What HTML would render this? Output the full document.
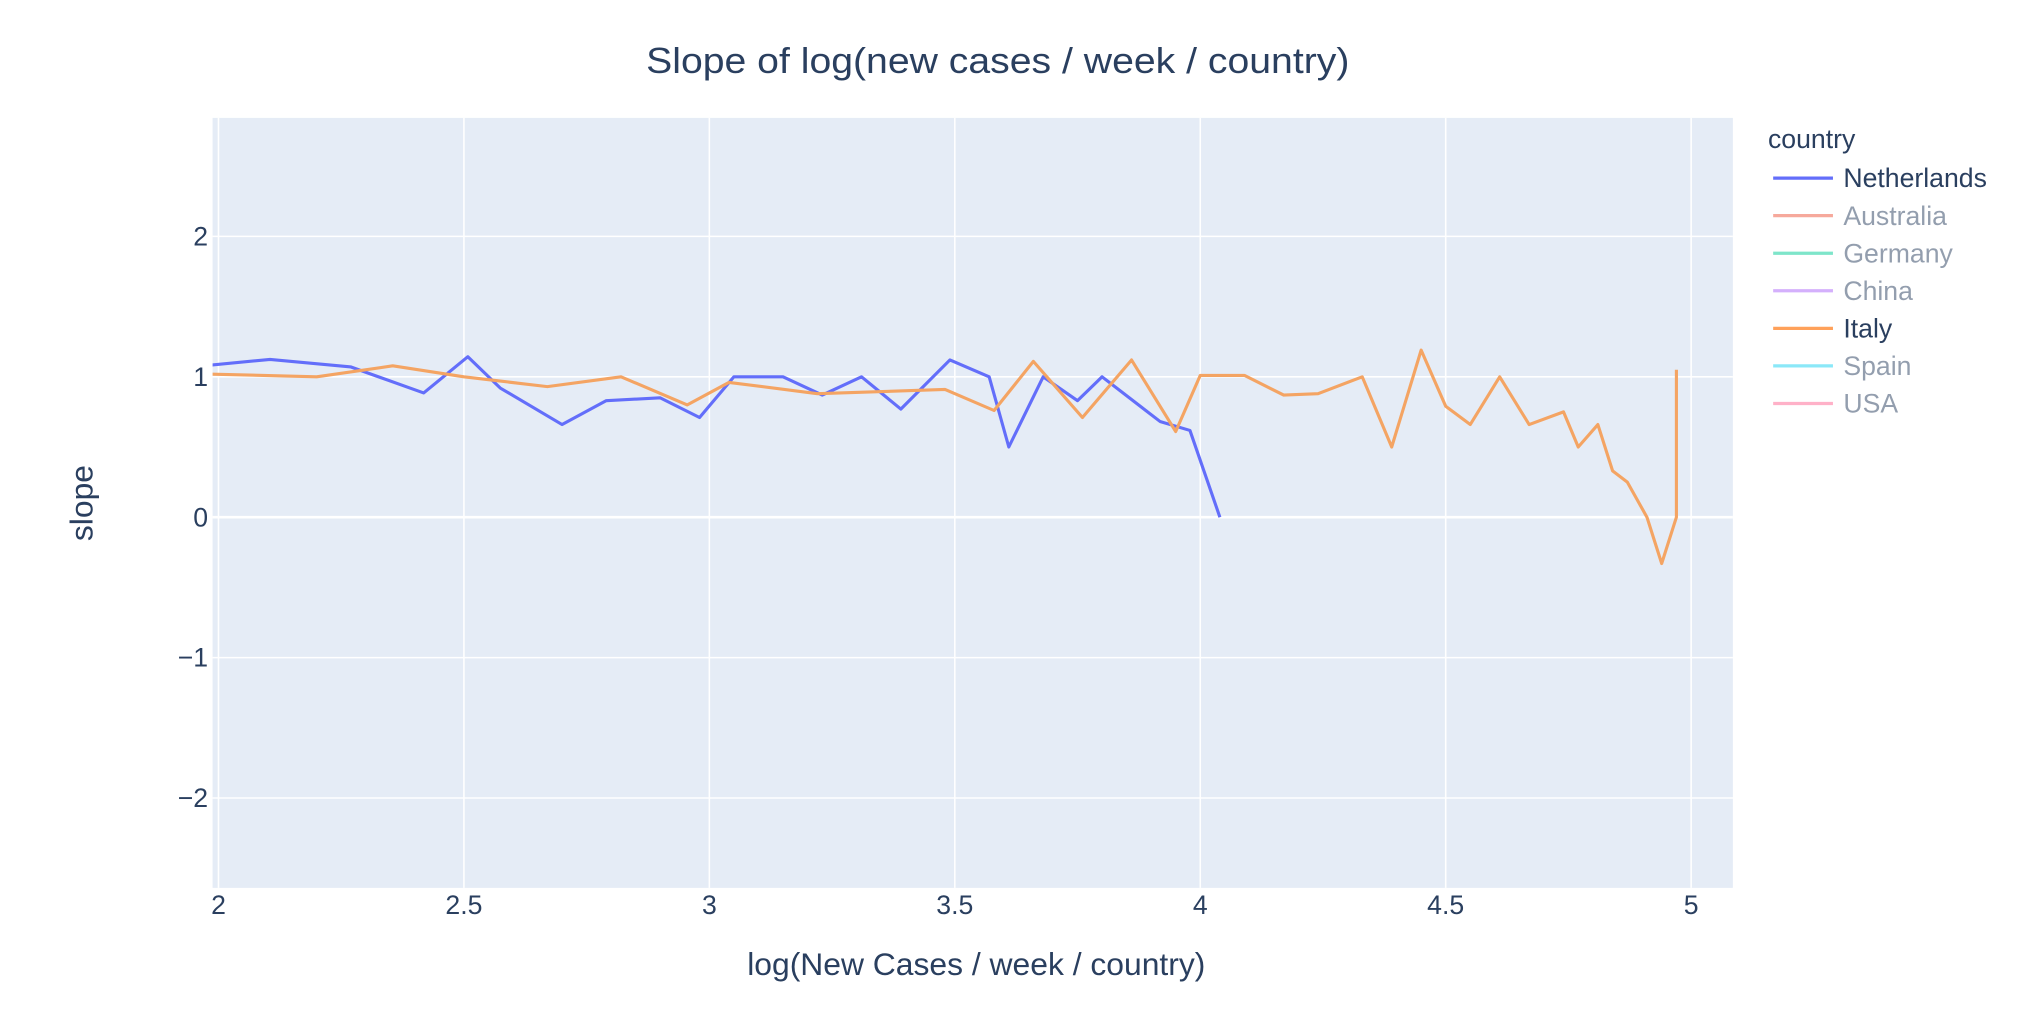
<!DOCTYPE html>
<html><head><meta charset="utf-8"><style>
html,body{margin:0;padding:0;background:#fff;}
svg{display:block;font-family:"Liberation Sans",sans-serif;}
</style></head><body>
<svg id="chart" width="2028" height="1012" viewBox="0 0 1560 778.5" xmlns="http://www.w3.org/2000/svg">
<rect x="0" y="0" width="1560" height="778.5" fill="#fff"/>
<text x="767.5" y="56" text-anchor="middle" font-size="27.5" textLength="541" lengthAdjust="spacingAndGlyphs" fill="#2a3f5f">Slope of log(new cases / week / country)</text>
<rect x="163.5" y="90.7" width="1169.5" height="592.3" fill="#e5ecf6"/>
<g id="grid"></g>
<defs><clipPath id="clip"><rect x="163.5" y="90.7" width="1169.5" height="592.3"/></clipPath></defs>
<g id="series" clip-path="url(#clip)"></g>
<g id="ticks"></g>
<text x="751" y="750" text-anchor="middle" font-size="24.5" fill="#2a3f5f">log(New Cases / week / country)</text>
<text transform="translate(71,387) rotate(-90)" text-anchor="middle" font-size="24.5" fill="#2a3f5f">slope</text>
<g id="legend">
<text x="1360" y="114" font-size="20.5" fill="#2a3f5f">country</text>
</g>
</svg>
<script>
const xTicks=[2,2.5,3,3.5,4,4.5,5];
const xTickLabels=["2","2.5","3","3.5","4","4.5","5"];
const yTicks=[-2,-1,0,1,2];
const yTickLabels=["−2","−1","0","1","2"];
const nlX=[1.975,2.105,2.27,2.418,2.508,2.574,2.70,2.79,2.90,2.98,3.05,3.15,3.23,3.31,3.39,3.49,3.57,3.61,3.68,3.75,3.80,3.918,3.979,4.04];
const nlY=[1.08,1.124,1.07,0.885,1.143,0.92,0.66,0.83,0.85,0.71,1.0,1.0,0.87,1.0,0.77,1.12,1.0,0.5,1.0,0.83,1.0,0.682,0.618,0.0];
const itX=[1.975,2.20,2.355,2.50,2.67,2.82,2.955,3.04,3.22,3.48,3.58,3.66,3.76,3.86,3.95,4.0,4.09,4.17,4.24,4.33,4.39,4.45,4.50,4.55,4.61,4.67,4.74,4.77,4.81,4.84,4.87,4.91,4.94,4.97,4.97];
const itY=[1.02,1.0,1.078,1.0,0.93,1.0,0.80,0.96,0.88,0.91,0.76,1.11,0.71,1.12,0.61,1.01,1.01,0.87,0.88,1.0,0.5,1.19,0.79,0.66,1.0,0.66,0.75,0.5,0.66,0.33,0.25,0.0,-0.33,0.0,1.05];
const legendNames=["Netherlands","Australia","Germany","China","Italy","Spain","USA"];
const legendColors=["#636efa","#EF553B","#00cc96","#ab63fa","#FFA15A","#19d3f3","#FF6692"];
const legendVisible=[true,false,false,false,true,false,false];

const X0=163.5,X1=1333,Y0=90.7,Y1=683;
const xmin=1.988,xmax=5.085,ymin=-2.64,ymax=2.844;
const sx=v=>X0+(v-xmin)/(xmax-xmin)*(X1-X0);
const sy=v=>Y1-(v-ymin)/(ymax-ymin)*(Y1-Y0);
const NS="http://www.w3.org/2000/svg";
function mk(tag,attrs,parent){const e=document.createElementNS(NS,tag);for(const k in attrs)e.setAttribute(k,attrs[k]);parent.appendChild(e);return e;}
const grid=document.getElementById('grid'),ticks=document.getElementById('ticks');
xTicks.forEach((t,i)=>{
  const l=mk('line',{x1:sx(t),x2:sx(t),y1:Y0,y2:Y1,stroke:'#fff','stroke-width':1.2},grid);
  
  
  const tx=mk('text',{x:sx(t),y:703,'text-anchor':'middle','font-size':20.5,fill:'#2a3f5f'},ticks);
  tx.textContent=xTickLabels[i];
  
  
});
yTicks.forEach((t,i)=>{
  const l=mk('line',{x1:X0,x2:X1,y1:sy(t),y2:sy(t),stroke:'#fff','stroke-width':t===0?2:1.2},grid);
  
  
  const tx=mk('text',{x:160,y:sy(t)+7,'text-anchor':'end','font-size':20.5,fill:'#2a3f5f'},ticks);
  tx.textContent=yTickLabels[i];
  
  
});
const ser=document.getElementById('series');
function line(xs,ys,color,name){
  const p=mk('polyline',{points:xs.map((x,i)=>sx(x)+','+sy(ys[i])).join(' '),fill:'none',stroke:color,'stroke-width':2.4,'stroke-linejoin':'round'},ser);
  
  
}
line(nlX,nlY,'#636efa','netherlands-line');
line(itX,itY,'#f4a463','italy-line');
const lg=document.getElementById('legend');
legendNames.forEach((n,i)=>{
  const y=137+i*28.9;
  const g=mk('g',{opacity:legendVisible[i]?1:0.5},lg);
  
  
  mk('line',{x1:1364,x2:1410,y1:y,y2:y,stroke:legendColors[i],'stroke-width':2.5},g);
  const t=mk('text',{x:1418,y:y+7,'font-size':20.5,fill:'#2a3f5f'},g);
  t.textContent=n;
});
</script>
</body></html>
